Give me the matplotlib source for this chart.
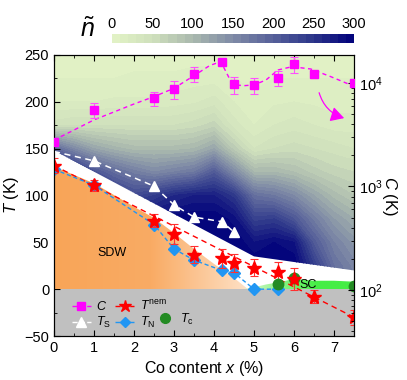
import numpy as np
import matplotlib.pyplot as plt
from matplotlib.colors import LinearSegmentedColormap
from matplotlib.patches import Polygon
from matplotlib.lines import Line2D

plt.rcParams['font.family'] = ['Liberation Sans', 'DejaVu Sans']
plt.rcParams['mathtext.fontset'] = 'custom'
plt.rcParams['mathtext.rm'] = 'Liberation Sans'
plt.rcParams['mathtext.it'] = 'Liberation Sans:italic'
plt.rcParams['mathtext.bf'] = 'Liberation Sans:bold'

# ---------------- data ----------------
# C (right axis, log scale, K)
c_x = [0, 1, 2.5, 3, 3.5, 4.2, 4.5, 5, 5.6, 6, 6.5, 7.5]
c_val = [2710, 5450, 7110, 8690, 12300, 15960, 9710, 9500, 11250, 15200, 12140, 10000]
c_err = [0, 900, 1150, 1650, 2100, 600, 1800, 1700, 1800, 2600, 900, 0]
# dashed guide through C
c_fit_x = [0, 0.5, 1, 1.5, 2, 2.5, 3, 3.5, 3.9, 4.17, 4.38, 4.54, 4.75, 5, 5.3, 5.6, 5.95, 6.42, 6.92, 7.42, 7.5]
c_fit_y = [2810, 3510, 4400, 5250, 6270, 7380, 8890, 11770, 14800, 16060, 11170, 9570, 9420, 9570,
           10690, 13360, 14370, 13650, 11510, 9570, 9350]

# T_S (white triangles)
ts_x = [0, 1, 2.5, 3, 3.5, 4.2, 4.5]
ts_val = [147, 137, 110, 90, 77, 72, 61]

# T_nem (red stars)
tnem_x = [0, 1, 2.5, 3, 3.5, 4.2, 4.5, 5, 5.6, 6, 6.5, 7.5]
tnem_val = [132, 111, 73, 59, 37, 33, 28, 23, 18, 11, -8, -30]
tnem_err = [8, 6, 7, 11, 9, 10, 10, 9, 11, 12, 7, 8]
tnem_fit_x = [0, 7.5]
tnem_fit_y = [132, -30]

# T_N (blue diamonds)
tn_x = [0, 1, 2.5, 3, 3.5, 4.2, 4.5, 5, 5.6]
tn_val = [128, 111, 69, 43, 31, 20, 17.5, 0, 0]

# T_c (green circles)
tc_x = [5.6, 6, 7.5]
tc_val = [5, 12, 3]

# region boundaries
field_edge_x = [0, 5, 7.5]
field_edge_T = [148, 35, 20]
sdw_x = [0, 1, 2, 2.5, 3, 3.5, 4, 4.5, 4.85]
sdw_T = [131, 113, 88, 76, 60, 43, 27, 12, 0]
sc_x = [4.7, 5.0, 5.3, 5.7, 6.0, 6.5, 7.0, 7.5]
sc_T = [0, 2, 5, 8, 11, 9, 9, 8]

# n-tilde map
field_x = [0, 0.5, 1, 1.5, 2, 2.5, 3, 3.5, 4, 4.5, 5, 5.5, 6, 6.5, 7, 7.5]
field_T = [0, 25, 50, 75, 100, 125, 150, 175, 200, 225, 250]
field_n = [
    [300, 300, 300, 300, 300, 300, 300, 300, 300, 300, 300, 300, 300, 260, 195, 165],
    [300, 300, 300, 300, 300, 300, 300, 300, 300, 300, 300, 300, 300, 240, 180, 155],
    [300, 300, 300, 300, 300, 300, 300, 300, 300, 300, 280, 290, 280, 205, 160, 135],
    [300, 300, 300, 300, 290, 290, 295, 300, 300, 285, 235, 240, 210, 165, 130, 110],
    [300, 300, 290, 250, 225, 240, 260, 270, 270, 245, 180, 170, 150, 120, 95, 80],
    [290, 265, 215, 185, 165, 150, 160, 170, 205, 150, 100, 100, 90, 75, 65, 60],
    [190, 150, 120, 105, 95, 95, 95, 100, 120, 75, 40, 50, 55, 50, 45, 40],
    [45, 50, 50, 50, 50, 50, 50, 55, 65, 35, 20, 30, 35, 30, 25, 25],
    [20, 20, 20, 22, 22, 22, 25, 28, 35, 20, 12, 18, 20, 18, 15, 15],
    [10, 10, 10, 10, 12, 12, 12, 15, 15, 10, 8, 10, 10, 10, 10, 10],
    [5, 5, 5, 5, 5, 5, 5, 5, 5, 5, 5, 5, 5, 5, 5, 5],
]

# ---------------- figure ----------------
fig = plt.figure(figsize=(4.07, 3.80), dpi=100)
ax = fig.add_axes([54 / 407, 44 / 380, 300 / 407, 281 / 380])

n_cmap = LinearSegmentedColormap.from_list(
    'ntilde', ['#e3f3c6', '#cfe0bc', '#a9b8ae', '#7f8aa6', '#56609a', '#2c358a', '#00007a'])
cs = ax.contourf(field_x, field_T, field_n, levels=np.linspace(0, 300, 31), cmap=n_cmap, zorder=1)
clip = Polygon([(field_edge_x[0], 250)] + list(zip(field_edge_x, field_edge_T)) + [(field_edge_x[-1], 250)],
               closed=True, transform=ax.transData)
cs.set_clip_path(clip)

# gray below 0
ax.axhspan(-50, 0, color='#c0c0c0', zorder=1, lw=0)

# SDW region (orange gradient)
orange = LinearSegmentedColormap.from_list('sdw', ['#f8a558', '#f9ab64', '#fee1c6'])
grad = np.linspace(0, 1, 256).reshape(1, -1)
im = ax.imshow(grad, extent=[0, sdw_x[-1], 0, max(sdw_T)], aspect='auto', cmap=orange, zorder=2)
im.set_clip_path(Polygon([(0, 0)] + list(zip(sdw_x, sdw_T)), closed=True, transform=ax.transData))

# SC region (green)
green = LinearSegmentedColormap.from_list('sc', ['#e0f8d8', '#8ef488', '#46ee46', '#46ee46'])
im2 = ax.imshow(grad, extent=[sc_x[0], sc_x[-1], 0, max(sc_T)], aspect='auto', cmap=green, zorder=2)
im2.set_clip_path(Polygon(list(zip(sc_x, sc_T)) + [(sc_x[-1], 0)], closed=True, transform=ax.transData))

ax.text(1.45, 39, 'SDW', fontsize=9, ha='center', va='center', zorder=3)
ax.text(6.35, 4, 'SC', fontsize=9, ha='center', va='center', zorder=3)

# T lines and markers
ax.plot(ts_x, ts_val, ls='--', color='white', lw=1.1, dashes=(4, 3), zorder=4)
ax.plot(ts_x[1:], ts_val[1:], ls='none', marker='^', ms=7, color='white', zorder=5)

ax.plot(tnem_fit_x, tnem_fit_y, ls='--', color='red', lw=1.0, dashes=(4, 3), zorder=4)
ax.plot(tn_x, tn_val, ls='--', color='#2196f3', lw=1.0, dashes=(3, 2), zorder=4)
ax.plot(tn_x, tn_val, ls='none', marker='D', ms=6.5, color='#2196f3', zorder=5)
ax.errorbar(tnem_x, tnem_val, yerr=tnem_err, fmt='*', ms=10, color='red', ecolor='#ff3030',
            elinewidth=0.8, capsize=3, capthick=0.8, zorder=6)
ax.plot(tc_x, tc_val, ls='none', marker='o', ms=7.5, color='#238b23', zorder=6)

ax.set_xlim(0, 7.5)
ax.set_ylim(-50, 250)
ax.set_xticks(range(0, 8))
ax.set_xticks(np.arange(0, 7.6, 0.5), minor=True)
ax.set_yticks(range(-50, 251, 50))
ax.set_yticks(range(-50, 251, 25), minor=True)
ax.tick_params(which='both', direction='in', top=True, right=False, labelsize=10.5)
ax.tick_params(which='major', length=4)
ax.tick_params(which='minor', length=2.5)
ax.set_xlabel('Co content $x$ (%)', fontsize=11.5, labelpad=3)
ax.set_ylabel('$T$ (K)', fontsize=12, labelpad=2)

# C on log right axis
ax2 = ax.twinx()
ax2.set_yscale('log')
ax2.set_ylim(35.9, 18640)
ax2.plot(c_fit_x, c_fit_y, ls='--', color='magenta', lw=1.0, dashes=(3, 2.5), zorder=4)
ax2.errorbar(c_x, c_val, yerr=c_err, fmt='s', ms=6, color='magenta', ecolor='#ff50ff',
             elinewidth=0.8, capsize=3, capthick=0.8, zorder=5)
ax2.annotate('', xy=(7.32, 4500), xytext=(6.61, 8550),
             arrowprops=dict(arrowstyle='-|>,head_length=0.8,head_width=0.45', color='magenta',
                             lw=0.9, connectionstyle='arc3,rad=0.3'))
ax2.tick_params(which='both', direction='in', labelsize=10.5)
ax2.tick_params(which='major', length=4)
ax2.tick_params(which='minor', length=2.5)
ax2.set_ylabel('$C$ (K)', fontsize=12, rotation=270, labelpad=12)

# legend (two parts so the T_c entry sits close, as in the original)
h_c = Line2D([], [], color='magenta', ls='--', lw=1, marker='s', ms=6)
h_ts = Line2D([], [], color='white', ls='--', lw=1, marker='^', ms=6.5)
h_tnem = Line2D([], [], color='red', ls='--', lw=1, marker='*', ms=9)
h_tn = Line2D([], [], color='#2196f3', ls='--', lw=1, marker='D', ms=5.5)
h_tc = Line2D([], [], ls='none', marker='o', ms=7, color='#238b23')
leg1 = ax2.legend([h_c, h_ts, h_tnem, h_tn],
                  ['$C$', '$T_{\\rm S}$', '$T^{\\rm nem}$', '$T_{\\rm N}$'],
                  ncol=2, frameon=False, loc='upper left', bbox_to_anchor=(0.035, 0.158),
                  fontsize=9, handlelength=1.5, columnspacing=0.3, handletextpad=0.45,
                  labelspacing=0.15, borderaxespad=0.2)
ax2.add_artist(leg1)
ax2.legend([h_tc], ['$T_{\\rm c}$'], frameon=False, loc='center left',
           bbox_to_anchor=(0.34, 0.06), fontsize=9, handlelength=1.5, handletextpad=0.45,
           borderpad=0, borderaxespad=0)

# colorbar
cax = fig.add_axes([112 / 407, (380 - 43) / 380, 242 / 407, 9 / 380])
cb = fig.colorbar(cs, cax=cax, orientation='horizontal', ticks=range(0, 301, 50))
cb.outline.set_visible(False)
cax.xaxis.set_ticks_position('top')
cax.tick_params(length=0, labelsize=10.5, pad=2)
fig.text(88 / 407, 1 - 30 / 380, r'$\tilde{n}$', fontsize=18, ha='center', va='center')

fig.savefig('out.png', dpi=100)
